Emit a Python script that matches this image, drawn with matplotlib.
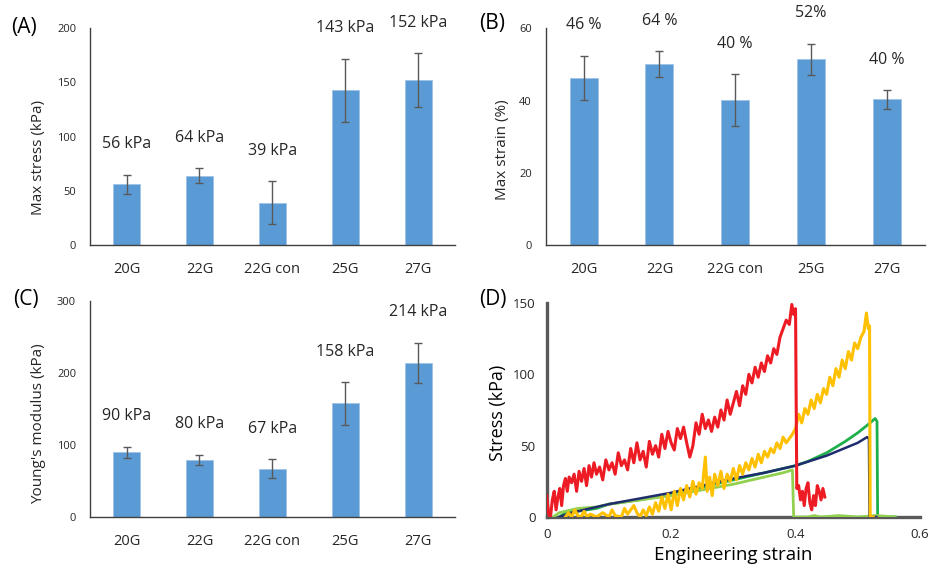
import matplotlib
matplotlib.use("Agg")
import matplotlib.pyplot as plt

plt.rcParams['font.family'] = ['Open Sans', 'DejaVu Sans']

groups = ['20G', '22G', '22G con', '25G', '27G']

stress_max = [56, 64, 39, 143, 152]
stress_err = [9, 7, 20, 29, 25]
stress_lbl = ['56 kPa', '64 kPa', '39 kPa', '143 kPa', '152 kPa']

strain_max = [46.3, 50.1, 40.1, 51.4, 40.3]
strain_err = [6.1, 3.5, 7.2, 4.3, 2.5]
strain_lbl = ['46 %', '64 %', '40 %', '52%', '40 %']

modulus = [89.5, 79.5, 67, 157.5, 214]
modulus_err = [8, 7, 13, 29.5, 28]
modulus_lbl = ['90 kPa', '80 kPa', '67 kPa', '158 kPa', '214 kPa']

# stress-strain curves (strain, kPa)
red_x = [0.000, 0.003, 0.006, 0.009, 0.012, 0.015, 0.018, 0.021, 0.024, 0.027, 0.030, 0.033,
         0.036, 0.040, 0.044, 0.048, 0.052, 0.056, 0.060, 0.064, 0.068, 0.072, 0.076, 0.080,
         0.085, 0.090, 0.095, 0.100, 0.105, 0.110, 0.115, 0.120, 0.125, 0.130, 0.135, 0.140,
         0.145, 0.150, 0.155, 0.160, 0.165, 0.170, 0.175, 0.180, 0.185, 0.190, 0.195, 0.200,
         0.205, 0.210, 0.215, 0.220, 0.225, 0.230, 0.235, 0.240, 0.245, 0.250, 0.255, 0.260,
         0.265, 0.270, 0.275, 0.280, 0.285, 0.290, 0.295, 0.300, 0.305, 0.310, 0.315, 0.320,
         0.325, 0.330, 0.335, 0.340, 0.345, 0.350, 0.355, 0.360, 0.365, 0.370, 0.375, 0.380,
         0.385, 0.390, 0.394, 0.397, 0.400, 0.402, 0.405, 0.408, 0.411, 0.414, 0.417, 0.420,
         0.423, 0.426, 0.429, 0.432, 0.435, 0.438, 0.441, 0.444, 0.447]
red_y = [15, 2, 0, 12, 18, 5, 14, 20, 8, 22, 27, 18,
         28, 24, 30, 18, 32, 25, 34, 22, 36, 28, 38, 30,
         35, 26, 40, 33, 38, 30, 45, 36, 40, 33, 48, 38,
         52, 40, 46, 35, 53, 44, 50, 42, 58, 48, 60, 52,
         47, 62, 55, 63, 52, 42, 50, 66, 58, 72, 62, 68,
         60, 70, 63, 75, 68, 82, 72, 80, 88, 78, 92, 86,
         100, 94, 105, 98, 108, 102, 113, 108, 118, 114, 126, 132,
         138, 135, 149, 142, 146, 20, 22, 12, 18, 8, 20, 24,
         10, 5, 15, 8, 22, 18, 12, 20, 14]

yel_x = [0.030, 0.035, 0.040, 0.045, 0.050, 0.055, 0.060, 0.065, 0.070, 0.080, 0.090, 0.100,
         0.105, 0.110, 0.120, 0.125, 0.130, 0.140, 0.145, 0.150, 0.155, 0.160, 0.165, 0.170,
         0.175, 0.180, 0.185, 0.190, 0.195, 0.200, 0.205, 0.210, 0.215, 0.220, 0.225, 0.230,
         0.235, 0.240, 0.245, 0.250, 0.255, 0.258, 0.262, 0.266, 0.270, 0.275, 0.280, 0.285,
         0.290, 0.295, 0.300, 0.305, 0.310, 0.315, 0.320, 0.325, 0.330, 0.335, 0.340, 0.345,
         0.350, 0.355, 0.360, 0.365, 0.370, 0.375, 0.380, 0.385, 0.390, 0.395, 0.400, 0.405,
         0.410, 0.415, 0.420, 0.425, 0.430, 0.435, 0.440, 0.445, 0.450, 0.455, 0.460, 0.465,
         0.470, 0.475, 0.480, 0.485, 0.490, 0.495, 0.500, 0.505, 0.510, 0.514, 0.517, 0.519,
         0.520, 0.525]
yel_y = [0, 3, 0, 5, 1, 0, 4, 0, 2, 0, 3, 0,
         5, 1, 0, 6, 2, 8, 3, 0, 5, 1, 7, 2,
         10, 4, 14, 6, 16, 5, 18, 8, 20, 12, 22, 14,
         25, 16, 24, 20, 42, 18, 28, 15, 30, 22, 32, 20,
         30, 25, 34, 26, 36, 30, 38, 33, 41, 35, 44, 38,
         46, 42, 48, 45, 52, 48, 56, 52, 55, 58, 62, 72,
         66, 76, 72, 82, 76, 86, 80, 90, 86, 98, 92, 104,
         98, 110, 104, 116, 110, 122, 118, 126, 130, 143, 132, 134,
         0, 0]

navy_x = [0.02, 0.04, 0.06, 0.08, 0.10, 0.15, 0.20, 0.25, 0.30, 0.35, 0.40, 0.45, 0.50,
          0.515, 0.518, 0.519, 0.53]
navy_y = [0, 3, 5, 7, 9, 13, 17, 22, 27, 31, 36, 43, 52, 56, 55, 0, 0]

green_x = [0.02, 0.03, 0.05, 0.08, 0.10, 0.15, 0.20, 0.25, 0.30, 0.35, 0.40, 0.42, 0.45,
           0.48, 0.50, 0.52, 0.525, 0.528, 0.531, 0.532, 0.56]
green_y = [0, 3, 4, 6, 9, 12, 16, 21, 26, 31, 36, 39, 45, 53, 59, 66, 68, 69, 67, 0, 0]

lgreen_x = [0.01, 0.02, 0.05, 0.08, 0.10, 0.15, 0.20, 0.25, 0.30, 0.35, 0.38, 0.395, 0.397,
            0.42, 0.43, 0.44, 0.47, 0.50, 0.53, 0.56]
lgreen_y = [0, 3, 6, 7, 9, 12, 15, 19, 23, 28, 31, 33, 0, 0, 1, 0, 1, 0, 1, 0]

bar_col = '#5B9BD5'
err_col = '#595959'
txt_col = '#262626'

fig = plt.figure(figsize=(9.33, 5.66), dpi=100)


def bar_panel(rect, vals, errs, lbls, ymax, ystep, ylabel, tag, tagpos, ylabpos):
    ax = fig.add_axes(rect)
    x = range(len(groups))
    ax.bar(x, vals, width=0.37, color=bar_col, edgecolor='#9DC3E6', linewidth=0.6, zorder=2)
    ax.errorbar(x, vals, yerr=errs, fmt='none', ecolor=err_col, elinewidth=1,
                capsize=3, capthick=1, zorder=3)
    for i in x:
        ax.annotate(lbls[i], (i, vals[i] + errs[i]), xytext=(0, 22), textcoords='offset points',
                    ha='center', va='center', fontsize=11.5, color=txt_col)
    ax.set_xlim(-0.5, len(groups) - 0.5)
    ax.set_ylim(0, ymax)
    ax.set_yticks(range(0, ymax + 1, ystep))
    ax.set_xticks(list(x))
    ax.set_xticklabels(groups)
    ax.tick_params(axis='x', length=0, pad=12, labelsize=10.5, labelcolor=txt_col)
    ax.tick_params(axis='y', length=0, pad=10, labelsize=8, labelcolor=txt_col)
    for s in ['top', 'right']:
        ax.spines[s].set_visible(False)
    for s in ['left', 'bottom']:
        ax.spines[s].set_color('#404040')
        ax.spines[s].set_linewidth(1.0)
    ax.patch.set_visible(False)
    fig.text(ylabpos[0], ylabpos[1], ylabel, rotation=90, ha='center', va='center',
             fontsize=11, color=txt_col)
    fig.text(tagpos[0], tagpos[1], tag, ha='left', va='center', fontsize=15, color='#000000')
    return ax


bar_panel([0.0965, 0.567, 0.391, 0.383], stress_max, stress_err, stress_lbl, 200, 50,
          'Max stress (kPa)', '(A)', (0.012, 0.951), (0.041, 0.722))
bar_panel([0.585, 0.567, 0.406, 0.383], strain_max, strain_err, strain_lbl, 60, 20,
          'Max strain (%)', '(B)', (0.513, 0.958), (0.539, 0.735))
bar_panel([0.0965, 0.0866, 0.391, 0.382], modulus, modulus_err, modulus_lbl, 300, 100,
          "Young's modulus (kPa)", '(C)', (0.014, 0.471), (0.041, 0.252))

axd = fig.add_axes([0.586, 0.0866, 0.400, 0.378])
axd.plot(green_x, green_y, color='#1DB04B', lw=2.0, zorder=2)
axd.plot(lgreen_x, lgreen_y, color='#92D050', lw=2.0, zorder=3)
axd.plot(navy_x, navy_y, color='#1F2C6E', lw=1.8, zorder=4)
axd.plot(yel_x, yel_y, color='#FFC000', lw=2.2, zorder=5)
axd.plot(red_x, red_y, color='#ED1C24', lw=2.2, zorder=6)
axd.set_xlim(0, 0.6)
axd.set_ylim(0, 150)
axd.set_xticks([0, 0.2, 0.4, 0.6])
axd.set_xticklabels(['0', '0.2', '0.4', '0.6'])
axd.set_yticks([0, 50, 100, 150])
axd.tick_params(axis='both', length=0, labelsize=9.5, labelcolor=txt_col)
axd.tick_params(axis='x', pad=8)
axd.tick_params(axis='y', pad=8)
for s in ['top', 'right']:
    axd.spines[s].set_visible(False)
for s in ['left', 'bottom']:
    axd.spines[s].set_color('#595959')
    axd.spines[s].set_linewidth(2.4)
axd.spines['left'].set_zorder(1)
axd.spines['bottom'].set_zorder(1)
axd.patch.set_visible(False)
fig.text(0.534, 0.27, 'Stress (kPa)', rotation=90, ha='center', va='center',
         fontsize=13, color='#000000')
fig.text(0.786, 0.019, 'Engineering strain', ha='center', va='center',
         fontsize=13.5, color='#000000')
fig.text(0.513, 0.471, '(D)', ha='left', va='center', fontsize=15, color='#000000')

fig.savefig('out.png', dpi=100)
